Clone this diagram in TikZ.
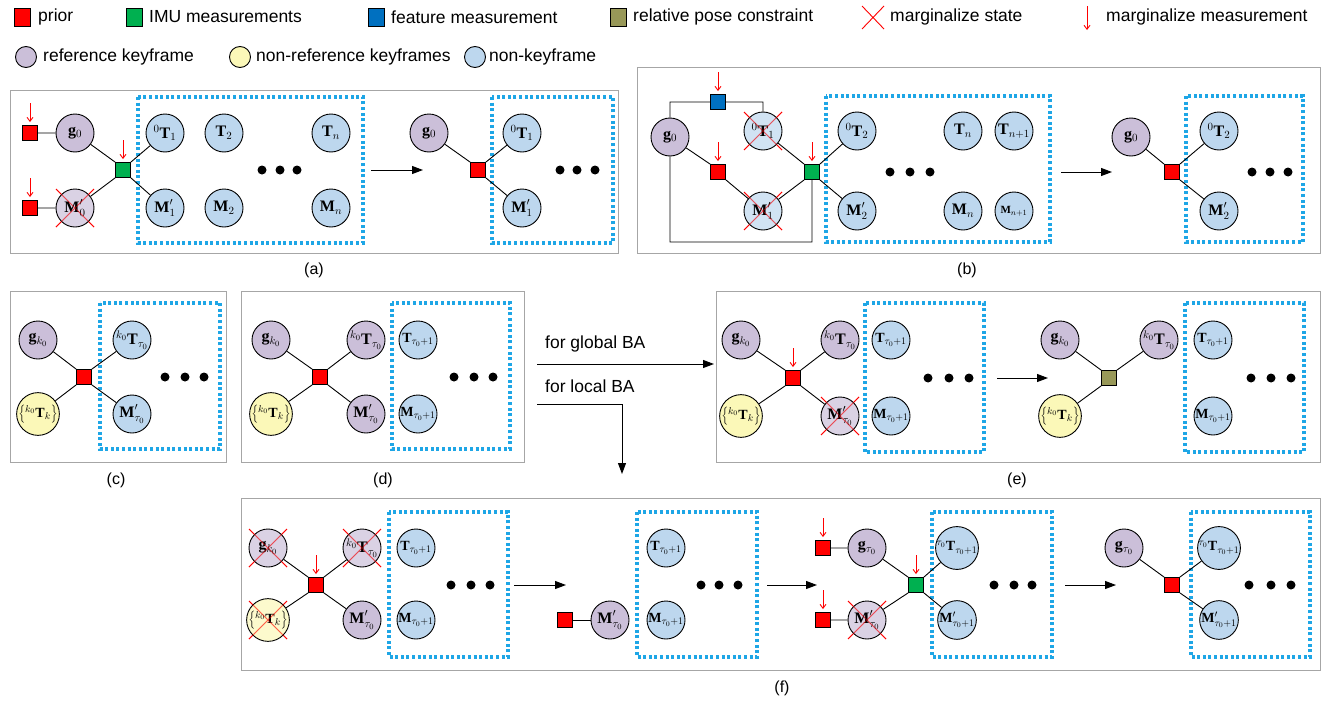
\documentclass[tikz,border=0pt]{standalone}
\usepackage{fontspec}
\setmainfont{Liberation Serif}
\setsansfont{Liberation Sans}
\usetikzlibrary{arrows.meta}
\pgfdeclarelayer{background}
\pgfsetlayers{background,main}
\definecolor{refc}{HTML}{CBBFD9}
\definecolor{nrefc}{HTML}{FBF8B8}
\definecolor{nkfc}{HTML}{BDD7EE}
\definecolor{priorc}{HTML}{FF0000}
\definecolor{imuc}{HTML}{00B050}
\definecolor{featc}{HTML}{0070C0}
\definecolor{relc}{HTML}{989858}
\definecolor{winc}{HTML}{1EA6E6}
\definecolor{panelc}{HTML}{A6A6A6}
\tikzset{
 st/.style={circle,draw=black,line width=0.9pt,minimum size=38pt,inner sep=0pt,font=\fontsize{16}{16}\selectfont},
 refk/.style={st,fill=refc},
 nrefk/.style={st,fill=nrefc},
 nkf/.style={st,fill=nkfc},
 crossed/.style={fill opacity=0.7,text opacity=1},
 small/.style={font=\fontsize{14}{14}\selectfont},
 fac/.style={rectangle,draw=black,line width=0.9pt,minimum size=15pt,inner sep=0pt},
 prior/.style={fac,fill=priorc},
 imu/.style={fac,fill=imuc},
 feat/.style={fac,fill=featc},
 rel/.style={fac,fill=relc},
 win/.style={draw=winc,line width=3.2pt,dash pattern=on 3pt off 2.6pt},
 panel/.style={draw=panelc,line width=1pt},
 edge/.style={draw=black,line width=0.9pt},
 flow/.style={draw=black,line width=1pt,-{Triangle[length=11pt,width=8pt]}},
 margm/.style={draw=red,line width=0.9pt,-{Straight Barb[length=4pt,width=6pt]}},
 xcross/.style={draw=red,line width=0.9pt},
 xover/.style={draw=red,line width=0.9pt,draw opacity=0.45},
 bdot/.style={circle,fill=black,minimum size=9pt,inner sep=0pt},
 lg/.style={font=\sffamily\fontsize{17.5}{20}\selectfont,anchor=west,inner sep=0pt},
 capt/.style={font=\sffamily\fontsize{16}{18}\selectfont,inner sep=0pt},
}
\newcommand{\Xst}[1]{\begin{pgfonlayer}{background}\draw[xcross] ([shift={(-19,-19)}]#1.center) -- ([shift={(19,19)}]#1.center) ([shift={(-19,19)}]#1.center) -- ([shift={(19,-19)}]#1.center);\end{pgfonlayer}\draw[xover] ([shift={(-19,-19)}]#1.center) -- ([shift={(19,19)}]#1.center) ([shift={(-19,19)}]#1.center) -- ([shift={(19,-19)}]#1.center);}
\newcommand{\Marg}[1]{\draw[margm] ([yshift=22pt]#1.north) -- ([yshift=3pt]#1.north);}
\newcommand{\Dots}[5]{\node[bdot] (#1a) at (#2,#5) {};\node[bdot] (#1b) at (#3,#5) {};\node[bdot] (#1c) at (#4,#5) {};}
\begin{document}
\begin{tikzpicture}[x=1pt,y=-1pt]
\useasboundingbox (0,0) rectangle (1330,704);
% ---------------- legend ----------------
\node[prior,minimum width=16pt,minimum height=18pt] (lg1) at (22,17) {};
\node[lg] (lt1) at (38,17) {prior};
\node[imu,minimum width=16pt,minimum height=18pt] (lg2) at (134,17) {};
\node[lg] (lt2) at (149,17) {IMU measurements};
\node[feat,minimum width=16pt,minimum height=18pt] (lg3) at (376,17) {};
\node[lg] (lt3) at (391,17) {feature measurement};
\node[rel,minimum width=16pt,minimum height=18pt] (lg4) at (618,17) {};
\node[lg] (lt4) at (633,17) {relative pose constraint};
\coordinate (lx1) at (862,6); \coordinate (lx2) at (884,29);
\coordinate (lx3) at (862,29); \coordinate (lx4) at (884,6);
\draw[xcross] (lx1) -- (lx2) (lx3) -- (lx4);
\node[lg] (lt5) at (890,17) {marginalize state};
\coordinate (lm1) at (1087,6); \coordinate (lm2) at (1087,30);
\draw[margm] (lm1) -- (lm2);
\node[lg] (lt6) at (1106,17) {marginalize measurement};
\node[refk,minimum size=21pt] (lc1) at (26,57) {};
\node[lg] (lt7) at (43,57) {reference keyframe};
\node[nrefk,minimum size=21pt] (lc2) at (240,57) {};
\node[lg] (lt8) at (256,57) {non-reference keyframes};
\node[nkf,minimum size=21pt] (lc3) at (475,57) {};
\node[lg] (lt9) at (489,57) {non-keyframe};
% ---------------- (a) ----------------
\draw[panel] (10,90) rectangle (618,253);
\draw[win] (138,97) rectangle (363,243);
\node[refk] (ag0) at (75,133) {$\mathbf{g}_0$};
\node[refk,crossed] (aM0) at (75,208) {$\mathbf{M}'_0$};
\node[prior] (ap1) at (30,133) {};
\node[prior] (ap2) at (30,208) {};
\node[imu] (aimu) at (123,170) {};
\node[nkf] (aT1) at (165,133) {${}^0\mathbf{T}_1$};
\node[nkf] (aT2) at (224,133) {$\mathbf{T}_2$};
\node[nkf] (aTn) at (331,133) {$\mathbf{T}_n$};
\node[nkf] (aM1) at (165,208) {$\mathbf{M}'_1$};
\node[nkf] (aM2) at (224,208) {$\mathbf{M}_2$};
\node[nkf] (aMn) at (331,208) {$\mathbf{M}_n$};
\Dots{ad}{262}{280}{297}{170}
\draw[edge] (ap1) -- (ag0) (ap2) -- (aM0) (ag0) -- (aimu.north west) (aM0) -- (aimu.south west)
  (aimu.north east) -- (aT1) (aimu.south east) -- (aM1);
\Marg{ap1} \Marg{ap2} \Marg{aimu}
\Xst{aM0}
\coordinate (aa1) at (371,170); \coordinate (aa2) at (423,170);
\draw[flow] (aa1) -- (aa2);
\draw[win] (492,97) rectangle (613,243);
\node[refk] (ag0b) at (429,133) {$\mathbf{g}_0$};
\node[prior] (apr) at (478,170) {};
\node[nkf] (aT1b) at (522,133) {${}^0\mathbf{T}_1$};
\node[nkf] (aM1b) at (522,208) {$\mathbf{M}'_1$};
\Dots{adb}{560}{577}{595}{170}
\draw[edge] (ag0b) -- (apr.north west) (apr.north east) -- (aT1b) (apr.south east) -- (aM1b);
\node[capt] (capa) at (314,270) {(a)};
% ---------------- (b) ----------------
\draw[panel] (637,67) rectangle (1320,253);
\draw[win] (826,96) rectangle (1050,242);
\node[refk] (bg0) at (670,137) {$\mathbf{g}_0$};
\node[feat] (bfeat) at (718,102) {};
\node[nkf,crossed] (bT1) at (763,131) {${}^0\mathbf{T}_1$};
\node[prior] (bpr) at (718,172) {};
\node[nkf,crossed] (bM1) at (763,211) {$\mathbf{M}'_1$};
\node[imu] (bimu) at (812,172) {};
\node[nkf] (bT2) at (857,131) {${}^0\mathbf{T}_2$};
\node[nkf] (bM2) at (857,211) {$\mathbf{M}'_2$};
\node[nkf] (bTn) at (963,131) {$\mathbf{T}_n$};
\node[nkf] (bTn1) at (1014,131) {$\mathbf{T}_{n+1}$};
\node[nkf] (bMn) at (963,211) {$\mathbf{M}_n$};
\node[nkf,font=\fontsize{11}{11}\selectfont] (bMn1) at (1014,211) {$\mathbf{M}_{n+1}$};
\Dots{bd}{890}{910}{930}{172}
\coordinate (bl) at (670,242); \coordinate (br) at (812,242);
\draw[edge] (bg0.north) |- (bfeat.west) (bfeat.east) -| (bT1.north)
  (bg0.south) -- (bl) -- (br) -- (bimu.south)
  (bg0) -- (bpr.north west) (bpr.south east) -- (bM1)
  (bT1) -- (bimu.north west) (bM1) -- (bimu.south west)
  (bimu.north east) -- (bT2) (bimu.south east) -- (bM2);
\Marg{bfeat} \Marg{bpr} \Marg{bimu}
\Xst{bT1} \Xst{bM1}
\coordinate (ba1) at (1061,172); \coordinate (ba2) at (1112,172);
\draw[flow] (ba1) -- (ba2);
\draw[win] (1186,96) rectangle (1303,242);
\node[refk] (bg0b) at (1131,137) {$\mathbf{g}_0$};
\node[prior] (bprb) at (1172,172) {};
\node[nkf] (bT2b) at (1219,131) {${}^0\mathbf{T}_2$};
\node[nkf] (bM2b) at (1219,211) {$\mathbf{M}'_2$};
\Dots{bdb}{1252}{1270}{1288}{172}
\draw[edge] (bg0b) -- (bprb.north west) (bprb.north east) -- (bT2b) (bprb.south east) -- (bM2b);
\node[capt] (capb) at (967,270) {(b)};
% ---------------- (c) ----------------
\draw[panel] (10,291) rectangle (226,462);
\draw[win] (100,303) rectangle (220,449);
\node[refk] (cg) at (38,340) {$\mathbf{g}_{k_0}$};
\node[nkf] (cT) at (132,340) {${}^{k_0}\mathbf{T}_{\tau_0}$};
\node[prior] (cpr) at (84,377) {};
\node[nrefk,small] (cY) at (38,414) {$\left\{{}^{k_0}\mathbf{T}_k\right\}$};
\node[nkf] (cM) at (132,414) {$\mathbf{M}'_{\tau_0}$};
\Dots{cd}{165}{185}{204}{377}
\draw[edge] (cg) -- (cpr.north west) (cY) -- (cpr.south west) (cpr.north east) -- (cT) (cpr.south east) -- (cM);
\node[capt] (capc) at (116,480) {(c)};
% ---------------- (d) ----------------
\draw[panel] (241,291) rectangle (524,462);
\draw[win] (392,303) rectangle (510,449);
\node[refk] (dg) at (271,340) {$\mathbf{g}_{k_0}$};
\node[refk] (dT) at (366,340) {${}^{k_0}\mathbf{T}_{\tau_0}$};
\node[prior] (dpr) at (320,377) {};
\node[nrefk,small] (dY) at (271,414) {$\left\{{}^{k_0}\mathbf{T}_k\right\}$};
\node[refk] (dM) at (366,414) {$\mathbf{M}'_{\tau_0}$};
\node[nkf,small] (dT1) at (418,340) {$\mathbf{T}_{\tau_0+1}$};
\node[nkf,small] (dM1) at (418,414) {$\mathbf{M}_{\tau_0+1}$};
\Dots{dd}{454}{474}{493}{377}
\draw[edge] (dg) -- (dpr.north west) (dY) -- (dpr.south west) (dpr.north east) -- (dT) (dpr.south east) -- (dM);
\node[capt] (capd) at (383,480) {(d)};
% ---------------- global / local ----------------
\node[lg] (tglob) at (545,344) {for global BA};
\coordinate (ga1) at (537,364); \coordinate (ga2) at (714,364);
\draw[flow] (ga1) -- (ga2);
\node[lg] (tloc) at (545,386) {for local BA};
\coordinate (la1) at (537,404); \coordinate (la2) at (622,404); \coordinate (la3) at (622,474);
\draw[flow] (la1) -- (la2) -- (la3);
% ---------------- (e) ----------------
\draw[panel] (716,291) rectangle (1320,462);
\draw[win] (865,303) rectangle (984,452);
\node[refk] (eg) at (741,340) {$\mathbf{g}_{k_0}$};
\node[refk] (eT) at (840,340) {${}^{k_0}\mathbf{T}_{\tau_0}$};
\node[prior] (epr) at (793,378) {};
\node[nrefk,small] (eY) at (741,416) {$\left\{{}^{k_0}\mathbf{T}_k\right\}$};
\node[refk,crossed] (eM) at (840,416) {$\mathbf{M}'_{\tau_0}$};
\node[nkf,small] (eT1) at (891,340) {$\mathbf{T}_{\tau_0+1}$};
\node[nkf,small] (eM1) at (891,416) {$\mathbf{M}_{\tau_0+1}$};
\Dots{ed}{928}{949}{969}{378}
\draw[edge] (eg) -- (epr.north west) (eY) -- (epr.south west) (epr.north east) -- (eT) (epr.south east) -- (eM);
\Marg{epr}
\Xst{eM}
\coordinate (ea1) at (997,378); \coordinate (ea2) at (1048,378);
\draw[flow] (ea1) -- (ea2);
\draw[win] (1185,303) rectangle (1304,452);
\node[refk] (egb) at (1060,340) {$\mathbf{g}_{k_0}$};
\node[refk] (eTb) at (1159,340) {${}^{k_0}\mathbf{T}_{\tau_0}$};
\node[rel] (erel) at (1109,378) {};
\node[nrefk,small] (eYb) at (1060,416) {$\left\{{}^{k_0}\mathbf{T}_k\right\}$};
\node[nkf,small] (eT1b) at (1213,340) {$\mathbf{T}_{\tau_0+1}$};
\node[nkf,small] (eM1b) at (1213,416) {$\mathbf{M}_{\tau_0+1}$};
\Dots{edb}{1251}{1271}{1291}{378}
\draw[edge] (egb) -- (erel.north west) (eYb) -- (erel.south west) (erel.north east) -- (eTb);
\node[capt] (cape) at (1017,480) {(e)};
% ---------------- (f) ----------------
\draw[panel] (241,498) rectangle (1320,670);
\draw[win] (389,512) rectangle (508,657);
\node[refk,crossed] (fg) at (268,548) {$\mathbf{g}_{k_0}$};
\node[refk,crossed] (fT) at (362,548) {${}^{k_0}\mathbf{T}_{\tau_0}$};
\node[prior] (fpr) at (316,585) {};
\node[nrefk,small,crossed] (fY) at (268,620) {$\left\{{}^{k_0}\mathbf{T}_k\right\}$};
\node[refk] (fM) at (362,620) {$\mathbf{M}'_{\tau_0}$};
\node[nkf,small] (fT1) at (416,548) {$\mathbf{T}_{\tau_0+1}$};
\node[nkf,small] (fM1) at (416,620) {$\mathbf{M}_{\tau_0+1}$};
\Dots{fd}{451}{471}{490}{585}
\draw[edge] (fg) -- (fpr.north west) (fY) -- (fpr.south west) (fpr.north east) -- (fT) (fpr.south east) -- (fM);
\Marg{fpr}
\Xst{fg} \Xst{fT} \Xst{fY}
\coordinate (fa1) at (514,585); \coordinate (fa2) at (566,585);
\draw[flow] (fa1) -- (fa2);
\node[prior] (fpr2) at (565,620) {};
\node[refk] (fM2) at (610,620) {$\mathbf{M}'_{\tau_0}$};
\draw[edge] (fpr2) -- (fM2);
\draw[win] (637,512) rectangle (757,657);
\node[nkf,small] (fT2) at (666,548) {$\mathbf{T}_{\tau_0+1}$};
\node[nkf,small] (fM2b) at (666,620) {$\mathbf{M}_{\tau_0+1}$};
\Dots{fdb}{701}{719}{738}{585}
\coordinate (fa3) at (767,585); \coordinate (fa4) at (817,585);
\draw[flow] (fa3) -- (fa4);
\node[prior] (fpr3) at (823,548) {};
\node[refk] (fg3) at (867,548) {$\mathbf{g}_{\tau_0}$};
\node[prior] (fpr4) at (823,620) {};
\node[refk,crossed] (fM3) at (867,620) {$\mathbf{M}'_{\tau_0}$};
\node[imu] (fimu) at (916,585) {};
\draw[win] (932,512) rectangle (1052,657);
\node[nkf,small] (fT3) at (957,548) {${}^{\tau_0}\mathbf{T}_{\tau_0+1}$};
\node[nkf,small] (fM3b) at (957,620) {$\mathbf{M}'_{\tau_0+1}$};
\Dots{fdc}{994}{1014}{1032}{585}
\draw[edge] (fpr3) -- (fg3) (fpr4) -- (fM3) (fg3) -- (fimu.north west) (fM3) -- (fimu.south west)
  (fimu.north east) -- (fT3) (fimu.south east) -- (fM3b);
\Marg{fpr3} \Marg{fpr4} \Marg{fimu}
\Xst{fM3}
\coordinate (fa5) at (1065,585); \coordinate (fa6) at (1116,585);
\draw[flow] (fa5) -- (fa6);
\node[refk] (fg4) at (1124,548) {$\mathbf{g}_{\tau_0}$};
\node[prior] (fpr5) at (1172,585) {};
\draw[win] (1191,512) rectangle (1310,657);
\node[nkf,small] (fT4) at (1219,548) {${}^{\tau_0}\mathbf{T}_{\tau_0+1}$};
\node[nkf,small] (fM4) at (1219,620) {$\mathbf{M}'_{\tau_0+1}$};
\Dots{fdd}{1249}{1271}{1291}{585}
\draw[edge] (fg4) -- (fpr5.north west) (fpr5.north east) -- (fT4) (fpr5.south east) -- (fM4);
\node[capt] (capf) at (782,688) {(f)};
\end{tikzpicture}
\end{document}
